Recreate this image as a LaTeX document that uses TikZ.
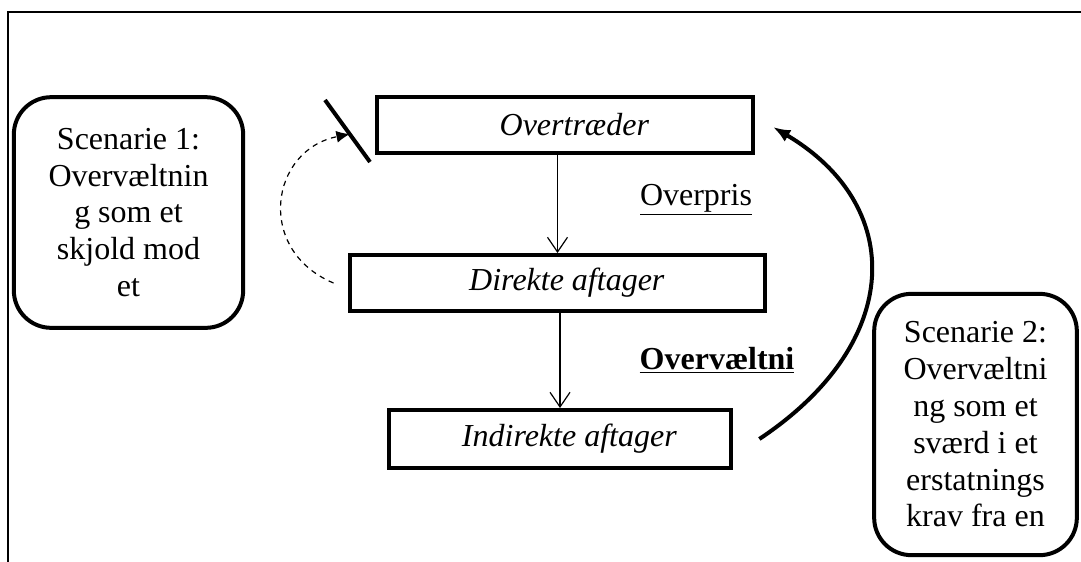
\documentclass[tikz,border=0pt]{standalone}
\usepackage{fontspec}
\setmainfont{Liberation Serif}
\usepackage{tikz}
\usetikzlibrary{arrows.meta,calc}

\begin{document}
\fontsize{24pt}{27.6pt}\selectfont
\begin{tikzpicture}[x=0.75pt,y=-0.75pt,
    actor/.style={draw,line width=3pt,inner sep=0pt,font=\itshape,
       execute at begin node=\hspace*{14pt}},
    scen/.style={draw,line width=3pt,rounded corners=28pt,inner sep=0pt,align=center},
    flow/.style={line width=0.9pt,-{Straight Barb[length=11pt,width=15pt]}},
    bigtip/.style={-{Latex[length=13pt,width=10pt]}}]
 \useasboundingbox (0,0) rectangle (1081,561);
 %frame
    \draw[line width=1.6pt] (8,575) -- (8,12) -- (1095,12);
 %chain
    \node[actor,minimum width=282pt,minimum height=42pt] (over) at (565,125) {Overtræder};
    \node[actor,minimum width=311pt,minimum height=42pt] (direkte) at (557.5,283) {Direkte aftager};
    \node[actor,minimum width=256pt,minimum height=43.5pt] (indirekte) at (560,439) {Indirekte aftager};
    \draw[flow] (direkte.north |- over.south) -- (direkte.north);
    \draw[flow] (indirekte.north |- direkte.south) -- (indirekte.north);
    \node (overpris) at (696,200) {\underline{Overpris}};
    \node (overvaelt) at (717,360) {\textbf{\underline{Overvæltni}}};
 %scenarios
    \node[scen,minimum width=172pt,minimum height=173pt] (scenA) at (128.5,212.5)
       {Scenarie 1:\\Overvæltnin\\g som et\\skjold mod\\et};
    \node[scen,minimum width=152pt,minimum height=196pt] (scenB) at (975.5,424.5)
       {Scenarie 2:\\Overvæltni\\ng som et\\sværd i et\\erstatnings\\krav fra en};
 %shield
    \coordinate (slashtop) at (325,100);
    \coordinate (slashbot) at (370,162);
    \draw[line width=3pt] (slashtop) -- (slashbot);
    \draw[line width=0.9pt,dash pattern=on 4pt off 3.5pt,-{Latex[length=10pt,width=9pt]}]
       ([xshift=-11pt]direkte.west) .. controls (255,250) and (270,150) .. ($(slashtop)!0.55!(slashbot)$);
 %sword
    \draw[line width=3pt,bigtip]
       ([xshift=20pt]indirekte.east) .. controls (905,342) and (905,205) .. ([xshift=13.5pt,yshift=-1.5pt]over.east);
\end{tikzpicture}
\end{document}
